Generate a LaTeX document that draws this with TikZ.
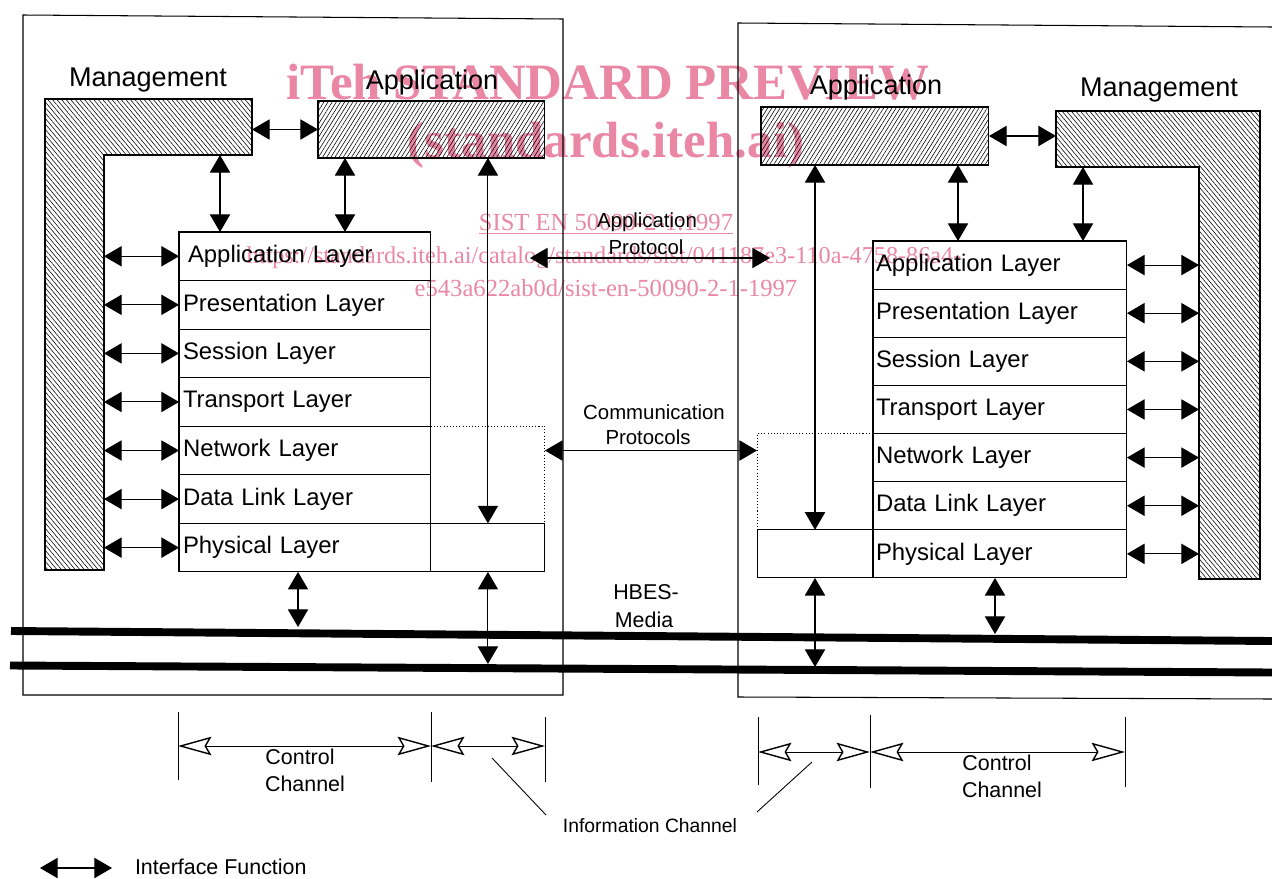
\documentclass[tikz,border=0pt]{standalone}
\usepackage{fontspec}
\setmainfont{Liberation Sans}
\newfontfamily\wmfont{Liberation Serif}
\usetikzlibrary{arrows.meta,patterns.meta}
\definecolor{wm}{RGB}{234,135,165}
\begin{document}
\begin{tikzpicture}[x=0.02cm,y=-0.02cm,
  every node/.style={inner sep=0pt,outer sep=0pt},
  iface/.style={line width=0.6pt,{Triangle[length=10pt,width=11.5pt]}-{Triangle[length=10pt,width=11.5pt]}},
  chan/.style={line width=0.5pt,{Stealth[open,length=19pt,width=10.5pt,inset=3pt,line width=0.8pt]}-{Stealth[open,length=19pt,width=10.5pt,inset=3pt,line width=0.8pt]}},
  frame/.style={line width=0.6pt},
  bus/.style={line width=4.5pt},
  thin/.style={line width=0.5pt},
  dots/.style={line width=0.5pt,dash pattern=on 0.6pt off 1.2pt},
  lrow/.style={draw,line width=0.6pt,anchor=north west,minimum width=5.04cm,minimum height=0.9714cm,text width=4.88cm,inner xsep=0.08cm,align=left,font=\fontsize{13.6}{15}\selectfont},
  rrow/.style={draw,line width=0.6pt,anchor=north west,minimum width=5.08cm,minimum height=0.9629cm,text width=4.96cm,inner xsep=0.06cm,align=left,font=\fontsize{13.6}{15}\selectfont},
  extbox/.style={draw,line width=0.6pt,anchor=north west},
  hatchM/.style={draw,line width=0.6pt,pattern={Lines[angle=-50,distance=2pt,line width=0.32pt]}},
  hatchA/.style={draw,line width=0.6pt,anchor=north west,pattern={Lines[angle=58,distance=2pt,line width=0.32pt]}},
  hdr/.style={font=\fontsize{15.4}{18}\selectfont},
  lbl/.style={font=\fontsize{11.6}{14}\selectfont},
  chl/.style={font=\fontsize{12.2}{14}\selectfont},
  wmk/.style={text=wm,font=\wmfont\fontsize{14}{16}\selectfont},
  wmb/.style={text=wm,font=\wmfont\bfseries\fontsize{29}{34}\selectfont}
]
\useasboundingbox (0,0) rectangle (1272,879);

% watermark
\node[wmb] (wm1) at (608,82) {iTeh STANDARD PREVIEW};
\node[wmb] (wm2) at (606,145) {(standards.iteh.ai)};
\node[wmk] (wm3) at (606,224) {\underline{SIST EN 50090-2-1:1997}};
\node[wmk,font=\wmfont\fontsize{13.8}{16}\selectfont] (wm4) at (604,258) {https://standards.iteh.ai/catalog/standards/sist/041187e3-110a-4758-86a4-};
\node[wmk] (wm5) at (606,288) {e543a622ab0d/sist-en-50090-2-1-1997};

% frames
\draw[frame] (23,15) -- (563,19) -- (563,695) -- (23,695) -- cycle;
\draw[frame] (1272,27) -- (738,23) -- (738,697) -- (1272,699);

% ---------------- left station ----------------
\path[hatchM] (45,99) -- (252,99) -- (252,155) -- (104,155) -- (104,570) -- (45,570) -- cycle;
\coordinate (lmIn) at (104,0);
\coordinate (lmR) at (252,0);
\coordinate (lmB) at (220,155);
\coordinate (lapB) at (345,0);
\node[hdr] (lmgT) at (148,80) {Management};
\node[hdr] (lapT) at (432,83) {Application};
\node[hatchA,minimum width=4.54cm,minimum height=1.14cm] (lap) at (318,101) {};

\node[lrow] (l1) at (179,232) {\hspace{0.1cm}Application Layer};
\node[lrow] (l2) at (l1.south west) {Presentation Layer};
\node[lrow] (l3) at (l2.south west) {Session Layer};
\node[lrow] (l4) at (l3.south west) {Transport Layer};
\node[lrow] (l5) at (l4.south west) {Network Layer};
\node[lrow] (l6) at (l5.south west) {Data Link Layer};
\node[lrow] (l7) at (l6.south west) {Physical Layer};
\node[extbox,minimum width=2.28cm,minimum height=0.9714cm] (lpx) at (l7.north east) {};
\draw[dots] (l5.north east) -| (lpx.north east);

\draw[iface] (lmR |- lap.west) -- (lap.west);
\draw[iface] (lmB) -- (lmB |- l1.north);
\draw[iface] (lapB |- lap.south) -- (lapB |- l1.north);
\draw[iface] (lap.south -| lpx.north) -- (lpx.north);
\foreach \r in {l1,l2,l3,l4,l5,l6,l7}{\draw[iface] (lmIn |- \r.west) -- (\r.west);}

% ---------------- right station ----------------
\path[hatchM] (1056,111) -- (1260,111) -- (1260,579) -- (1199,579) -- (1199,167) -- (1056,167) -- cycle;
\coordinate (rmIn) at (1199,0);
\coordinate (rmL) at (1056,0);
\coordinate (rmB) at (1083,167);
\coordinate (rapB) at (958,0);
\node[hdr] (rapT) at (876,88) {Application};
\node[hdr] (rmgT) at (1159,90) {Management};
\node[hatchA,minimum width=4.56cm,minimum height=1.16cm] (rap) at (761,107) {};

\node[rrow] (r1) at (873,241) {Application Layer};
\node[rrow] (r2) at (r1.south west) {Presentation Layer};
\node[rrow] (r3) at (r2.south west) {Session Layer};
\node[rrow] (r4) at (r3.south west) {Transport Layer};
\node[rrow] (r5) at (r4.south west) {Network Layer};
\node[rrow] (r6) at (r5.south west) {Data Link Layer};
\node[rrow] (r7) at (r6.south west) {Physical Layer};
\node[extbox,anchor=north east,minimum width=2.32cm,minimum height=0.9629cm] (rpx) at (r7.north west) {};
\draw[dots] (r5.north west) -| (rpx.north west);

\draw[iface] (rap.east) -- (rmL |- rap.east);
\draw[iface] (rmB) -- (rmB |- r1.north);
\draw[iface] (rapB |- rap.south) -- (rapB |- r1.north);
\draw[iface] (rap.south -| rpx.north) -- (rpx.north);
\foreach \r in {r1,r2,r3,r4,r5,r6,r7}{\draw[iface] (\r.east) -- (rmIn |- \r.east);}

% ---------------- protocols ----------------
\coordinate (apL) at (530,258);
\coordinate (apR) at (770,258);
\draw[iface] (apL) -- (apR);
\node[lbl] (apT1) at (647,222) {Application};
\node[lbl] (apT2) at (646,247) {Protocol};
\draw[iface] (lpx.east |- l5.east) -- (rpx.west |- l5.east);
\node[lbl] (cpT1) at (654,412) {Communication};
\node[lbl] (cpT2) at (648,437) {Protocols};

% ---------------- media ----------------
\coordinate (b1s) at (11,631);
\coordinate (b1e) at (1272,641);
\coordinate (b2s) at (10,665.5);
\coordinate (b2e) at (1272,672.5);
\draw[bus] (b1s) -- (b1e);
\draw[bus] (b2s) -- (b2e);
\node[chl] (hbT1) at (646,592) {HBES-};
\node[chl] (hbT2) at (644,620) {Media};
\coordinate (b1a) at (298,627);
\coordinate (b2a) at (488,664);
\coordinate (b2b) at (815,667);
\coordinate (b1b) at (995,634);
\draw[iface] (b1a |- l7.south) -- (b1a);
\draw[iface] (lpx.south) -- (lpx.south |- b2a);
\draw[iface] (rpx.south) -- (rpx.south |- b2b);
\draw[iface] (b1b |- r7.south) -- (b1b);

% ---------------- channels ----------------
\coordinate (c1) at (178,746);
\coordinate (c2) at (431,746);
\coordinate (c3) at (545,746);
\coordinate (c4) at (758,752);
\coordinate (c5) at (870,752);
\coordinate (c6) at (1125,752);
\draw[thin] (178,712) -- (178,780);
\draw[thin] (431,712) -- (431,782);
\draw[thin] (545,717) -- (545,782);
\draw[thin] (758,717) -- (758,785);
\draw[thin] (870,715) -- (870,788);
\draw[thin] (1125,717) -- (1125,787);
\draw[chan] (c1) -- (c2);
\draw[chan] (c2) -- (c3);
\draw[chan] (c4) -- (c5);
\draw[chan] (c5) -- (c6);
\node[chl] (lcc1) at (300,757) {Control};
\node[chl] (lcc2) at (305,784) {Channel};
\node[chl] (rcc1) at (997,763) {Control};
\node[chl] (rcc2) at (1002,790) {Channel};
\node[font=\fontsize{11}{13}\selectfont] (info) at (650,826) {Information Channel};
\coordinate (ld1a) at (492,758);
\coordinate (ld1b) at (546,815);
\coordinate (ld2a) at (812,762);
\coordinate (ld2b) at (757,812);
\draw[thin] (ld1a) -- (ld1b);
\draw[thin] (ld2a) -- (ld2b);

% legend
\coordinate (lg1) at (40,868);
\coordinate (lg2) at (112,868);
\draw[iface] (lg1) -- (lg2);
\node[chl,anchor=west] (legT) at (135,867) {Interface Function};
\end{tikzpicture}
\end{document}
